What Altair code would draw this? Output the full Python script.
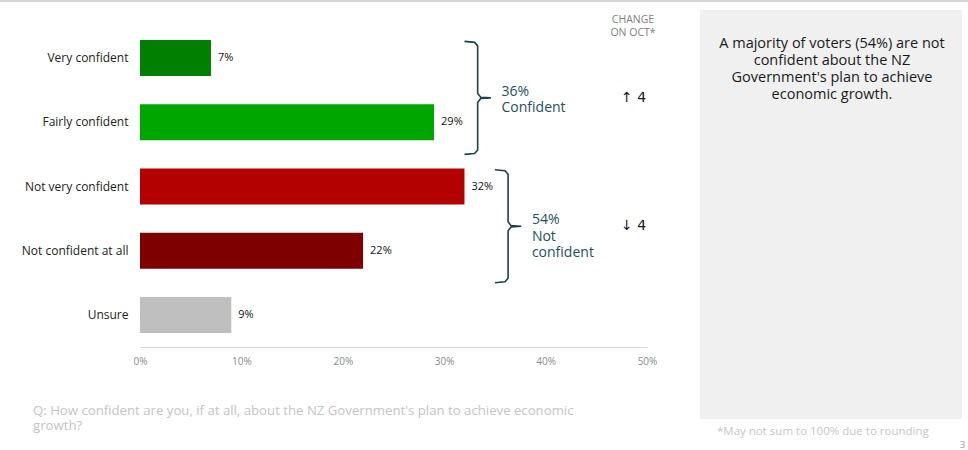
import altair as alt
import pandas as pd

# Survey answers and shares (%)
categories = ["Very confident", "Fairly confident", "Not very confident",
              "Not confident at all", "Unsure"]
shares = [7, 29, 32, 22, 9]
bar_colors = ["#007f00", "#00a600", "#b30000", "#7f0000", "#bfbfbf"]

# Grouped totals shown beside the braces
group_labels = ["36%\nConfident", "54%\nNot\nconfident"]
group_changes = ["\u2191 4", "\u2193 4"]
group_first = [0, 2]
group_last = [1, 3]

tick_values = [0, 10, 20, 30, 40, 50]

header_text = "CHANGE\nON OCT*"
panel_text = ("A majority of voters (54%) are not\nconfident about the NZ\n"
              "Government's plan to achieve\neconomic growth.")
question_text = ("Q: How confident are you, if at all, about the NZ Government's plan to achieve economic\n"
                 "growth?")
footnote_text = "*May not sum to 100% due to rounding"

FONT = "Open Sans"
W, H = 507, 321
PAD_L, PAD_T = 140, 26

bars_df = pd.DataFrame({
    "category": categories,
    "share": shares,
    "label": [f"{v}%" for v in shares],
})

# Brace geometry, placed in the same units as the bars (x in %, y in row index)
brace_rows = []
group_rows = []
for g, (a, b) in enumerate(zip(group_first, group_last)):
    xb = max(shares[a:b + 1]) + 4.3
    top, bot = a - 0.26, b + 0.5
    mid = (top + bot) / 2
    pts = [(xb - 1.3, top), (xb - 0.3, top + 0.015), (xb, top + 0.07),
           (xb, mid - 0.07), (xb + 0.3, mid - 0.01), (xb + 1.3, mid),
           (xb + 0.3, mid + 0.01), (xb, mid + 0.07),
           (xb, bot - 0.07), (xb - 0.3, bot - 0.015), (xb - 1.3, bot)]
    for i, (px, py) in enumerate(pts):
        brace_rows.append({"g": g, "o": i, "x": px, "y": py})
    group_rows.append({"g": g, "x": xb + 2.35, "mid": mid,
                       "label": group_labels[g], "change": group_changes[g]})
brace_df = pd.DataFrame(brace_rows)
group_df = pd.DataFrame(group_rows)

one = pd.DataFrame({"k": [0]})

x_scale = alt.Scale(domain=[0, 50], nice=False)
idx_scale = alt.Scale(domain=[-0.5, 4.5], reverse=True, nice=False, zero=False)
band = alt.Scale(paddingInner=0.44, paddingOuter=0.22)

panel = alt.Chart(one).mark_rect(color="#f0f0f0").encode(
    x=alt.value(700 - PAD_L), x2=alt.value(962 - PAD_L),
    y=alt.value(10 - PAD_T), y2=alt.value(419 - PAD_T),
)

top_line = alt.Chart(one).mark_rule(color="#c8c8c8", strokeWidth=1.5).encode(
    x=alt.value(-PAD_L), x2=alt.value(968 - PAD_L), y=alt.value(1 - PAD_T),
)

bars = alt.Chart(bars_df).mark_bar().encode(
    x=alt.X("share:Q", scale=x_scale,
            axis=alt.Axis(values=tick_values, labelExpr="datum.value + '%'",
                          title=None, grid=False, ticks=False,
                          labelFlush=False, labelOverlap=False,
                          domainColor="#d9d9d9", labelColor="#8a8a8a",
                          labelFontSize=10, labelPadding=9)),
    y=alt.Y("category:N", sort=categories, scale=band,
            axis=alt.Axis(title=None, ticks=False, domain=False,
                          labelPadding=12, labelFontSize=12,
                          labelColor="#222222")),
    color=alt.Color("category:N", scale=alt.Scale(domain=categories, range=bar_colors),
                    legend=None),
)

values = alt.Chart(bars_df).mark_text(
    align="left", dx=7, fontSize=11, color="#111111", fontWeight=500,
).encode(
    x=alt.X("share:Q", scale=x_scale),
    y=alt.Y("category:N", sort=categories, scale=band, axis=None),
    text="label:N",
)

braces = alt.Chart(brace_df).mark_line(color="#1d3f4f", strokeWidth=1.6).encode(
    x=alt.X("x:Q", scale=x_scale),
    y=alt.Y("y:Q", scale=idx_scale, axis=None),
    order="o:Q",
    detail="g:N",
)

group_text = alt.Chart(group_df).mark_text(
    align="left", baseline="alphabetic", fontSize=14, lineHeight=16.5,
    color="#1d4f63", lineBreak="\n",
).encode(
    x=alt.X("x:Q", scale=x_scale),
    y=alt.Y("y_lab:Q", scale=idx_scale, axis=None),
    text="label:N",
).transform_calculate(y_lab="datum.mid - 0.03")

change_text = alt.Chart(group_df).mark_text(
    align="center", baseline="middle", fontSize=14, color="#1a1a1a",
    font="DejaVu Sans",
).encode(
    x=alt.value(633.5 - PAD_L),
    y=alt.Y("mid:Q", scale=idx_scale, axis=None),
    text="change:N",
)

header = alt.Chart(one).mark_text(
    align="center", baseline="middle", fontSize=10.5, lineHeight=13,
    color="#808080", lineBreak="\n",
).encode(x=alt.value(633 - PAD_L), y=alt.value(20 - PAD_T), text=alt.value(header_text))

panel_note = alt.Chart(one).mark_text(
    align="center", baseline="middle", fontSize=14.5, lineHeight=17,
    color="#1a1a1a", lineBreak="\n",
).encode(x=alt.value(832 - PAD_L), y=alt.value(44 - PAD_T), text=alt.value(panel_text))

question = alt.Chart(one).mark_text(
    align="left", baseline="middle", fontSize=13.2, lineHeight=14.5,
    color="#c4c4c4", lineBreak="\n",
).encode(x=alt.value(33 - PAD_L), y=alt.value(411 - PAD_T), text=alt.value(question_text))

footnote = alt.Chart(one).mark_text(
    align="left", baseline="middle", fontSize=11.5, color="#c6c6c6",
).encode(x=alt.value(717 - PAD_L), y=alt.value(432 - PAD_T), text=alt.value(footnote_text))

page_no = alt.Chart(one).mark_text(
    align="left", baseline="middle", fontSize=9, color="#9a9a9a",
).encode(x=alt.value(960 - PAD_L), y=alt.value(445 - PAD_T), text=alt.value("3"))

chart = alt.layer(
    panel, top_line, bars, values, braces, group_text, change_text,
    header, panel_note, question, footnote, page_no,
).resolve_scale(y="independent").properties(
    width=W, height=H,
    autosize=alt.AutoSizeParams(type="none"),
    padding={"left": PAD_L, "top": PAD_T, "right": 968 - PAD_L - W, "bottom": 450 - PAD_T - H},
    background="white",
).configure(font=FONT).configure_view(stroke=None)

chart.save("out.html", embed_options={"renderer": "svg", "actions": False})
